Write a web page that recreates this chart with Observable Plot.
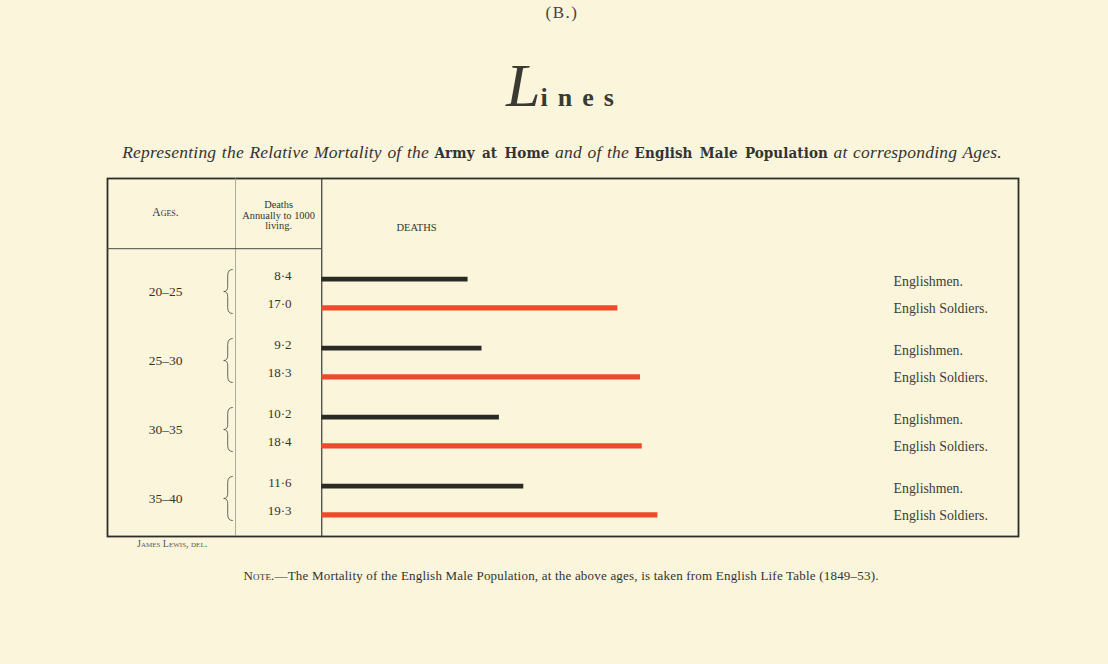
<!DOCTYPE html>
<html>
<head>
<meta charset="utf-8">
<script src="https://cdn.jsdelivr.net/npm/d3@7"></script>
<script src="https://cdn.jsdelivr.net/npm/@observablehq/plot@0.6"></script>
<style>
  html, body { margin: 0; padding: 0; background: #fbf5db; }
  #page { position: relative; width: 1108px; height: 664px; overflow: hidden; background: #fbf5db; font-family: "Liberation Serif", "DejaVu Serif", serif; color: #333; }
  .abs { position: absolute; white-space: nowrap; }
  #plate { top: 3px; left: 0; width: 1124px; text-align: center; font-size: 17px; letter-spacing: 1.5px; color: #444; }
  #lines { top: 50px; left: 0; width: 1130px; text-align: center; color: #3a3a33; }
  #lines .big { font-size: 62px; font-style: italic; font-family: "Liberation Serif", serif; }
  #lines .small { font-size: 26px; font-weight: bold; letter-spacing: 10px; font-family: "Liberation Serif", serif; }
  #subtitle { top: 142px; left: 0; width: 1124px; text-align: center; font-size: 17.5px; letter-spacing: 0.2px; color: #333; word-spacing: 1px; }
  #subtitle i { font-family: "Liberation Serif", serif; }
  #subtitle b { font-family: "DejaVu Serif Condensed", "DejaVu Serif", serif; font-weight: bold; font-size: 15px; letter-spacing: 0.1px; word-spacing: 2.5px; }
  #chart { position: absolute; top: 170px; left: 0; }
  #artist { top: 538px; left: 137px; font-size: 10px; font-variant: small-caps; color: #555; }
  #note { top: 568px; left: 0; width: 1122px; text-align: center; font-size: 13px; letter-spacing: 0.2px; color: #333; }
  #note .sc { font-variant: small-caps; }
</style>
</head>
<body>
<div id="page">
  <div id="plate" class="abs">(B.)</div>
  <div id="lines" class="abs"><span class="big">L</span><span class="small">ines</span></div>
  <div id="subtitle" class="abs"><i>Representing the Relative Mortality of the</i> <b>Army at Home</b> <i>and of the</i> <b>English Male Population</b> <i>at corresponding Ages.</i></div>
  <div id="chart"></div>
  <div id="artist" class="abs">James Lewis, del.</div>
  <div id="note" class="abs"><span class="sc">Note.</span>—The Mortality of the English Male Population, at the above ages, is taken from English Life Table (1849–53).</div>
</div>
<script>
// ---- data ----
const ages = ["20–25", "25–30", "30–35", "35–40"];
const englishmen = [8.4, 9.2, 10.2, 11.6];
const soldiers = [17.0, 18.3, 18.4, 19.3];
const seriesNames = ["Englishmen.", "English Soldiers."];
const headerAges = "Ages.";
const headerRate = "Deaths\nAnnually to 1000\nliving.";
const headerBars = "DEATHS";

const fmt = v => d3.format(".1f")(v).replace(".", "·");
const menRows = ages.map((age, i) => ({age, series: seriesNames[0], value: englishmen[i]}));
const solRows = ages.map((age, i) => ({age, series: seriesNames[1], value: soldiers[i]}));

// column positions expressed in x-scale units (deaths per 1000)
const xLeft = -12.3, xAgeCol = -8.97, xDivider = -4.95, xBrace = -5.6, xRateCol = -1.73, xRateHead = -2.48, xBarsHead = 5.44, xNames = 32.83;
const offMen = -14.3, offSol = 14.3;
const ink = "#34342e";

function braces(index, scales) {
  const g = d3.create("svg:g").attr("fill", "none").attr("stroke", "#555").attr("stroke-width", 0.9);
  const x0 = scales.x(xBrace);
  for (const a of ages) {
    const cy = scales.y(a) - 1.5, h = 22, xv = x0 + 4, xe = x0 + 9;
    g.append("path").attr("d",
      `M${xe},${cy - h} Q${xv},${cy - h} ${xv},${cy - h + 6} L${xv},${cy - 5} Q${xv},${cy} ${x0},${cy}` +
      ` Q${xv},${cy} ${xv},${cy + 5} L${xv},${cy + h - 6} Q${xv},${cy + h} ${xe},${cy + h}`);
  }
  return g.node();
}

const chart = Plot.plot({
  width: 1108,
  height: 380,
  marginLeft: 107,
  marginRight: 90,
  marginTop: 8,
  marginBottom: 14,
  style: {background: "transparent", fontFamily: "Liberation Serif, DejaVu Serif, serif", color: ink},
  x: {domain: [xLeft, 40], axis: null},
  y: {type: "point", domain: ages, range: [122.3, 331], padding: 0, axis: null},
  marks: [
    Plot.frame({stroke: "#2e2e2a", strokeWidth: 1.8}),
    Plot.ruleX([xDivider], {stroke: "#9a978a", strokeWidth: 0.8}),
    Plot.ruleX([0], {stroke: "#3a3a35", strokeWidth: 1.2}),
    Plot.ruleY([ages[0]], {x1: xLeft, x2: 0, dy: -44.8, stroke: "#4a4a44", strokeWidth: 1}),
    Plot.text([headerAges], {x: xAgeCol, frameAnchor: "top", lineAnchor: "middle", dy: 34, text: d => d, fontSize: 11.5, fontVariant: "small-caps", fill: ink, ariaLabel: "ages-header"}),
    Plot.text([headerRate], {x: xRateHead, frameAnchor: "top", lineAnchor: "middle", dy: 37, text: d => d, fontSize: 10.4, lineHeight: 1.0, fill: ink}),
    Plot.text([headerBars], {x: xBarsHead, frameAnchor: "top", lineAnchor: "middle", dy: 49, text: d => d, fontSize: 10.5, fill: ink, ariaLabel: "deaths-header"}),
    Plot.ruleY(menRows, {y: "age", x1: 0, x2: "value", dy: offMen, stroke: "#2b2b26", strokeWidth: 4.8}),
    Plot.ruleY(solRows, {y: "age", x1: 0, x2: "value", dy: offSol, stroke: "#ee4b2d", strokeWidth: 5.2}),
    Plot.text(menRows, {y: "age", x: xRateCol, text: d => fmt(d.value), textAnchor: "end", dy: offMen - 3.7, fontSize: 13, fill: ink}),
    Plot.text(solRows, {y: "age", x: xRateCol, text: d => fmt(d.value), textAnchor: "end", dy: offSol - 4.3, fontSize: 13, fill: ink}),
    Plot.text(ages, {y: d => d, x: xAgeCol, text: d => d, dy: -2, fontSize: 13.5, fill: ink, ariaLabel: "age-labels"}),
    braces,
    Plot.text(menRows, {y: "age", x: xNames, text: "series", textAnchor: "start", dy: offMen + 2, fontSize: 13.8, fill: "#3d3d37", ariaLabel: "series-labels"}),
    Plot.text(solRows, {y: "age", x: xNames, text: "series", textAnchor: "start", dy: offSol + 0.5, fontSize: 13.8, fill: "#3d3d37", ariaLabel: "series-labels"})
  ]
});
d3.select(chart).selectAll('g[aria-label="deaths-header"] text').attr("letter-spacing", "3px");
d3.select(chart).selectAll('g[aria-label="ages-header"] text').attr("letter-spacing", "0.8px");
d3.select(chart).selectAll('g[aria-label="age-labels"] text').attr("letter-spacing", "1px");
d3.select(chart).selectAll('g[aria-label="series-labels"] text').attr("letter-spacing", "0.3px");
document.getElementById("chart").appendChild(chart);
</script>
</body>
</html>
